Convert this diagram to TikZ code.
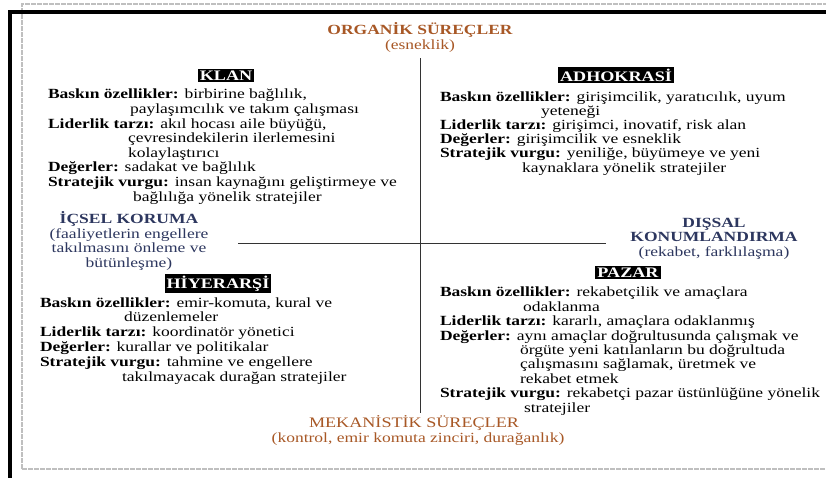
\documentclass[tikz,border=0pt]{standalone}
\usepackage{fontspec}
\setmainfont{Liberation Serif}[FakeStretch=1.25]
\definecolor{axbrown}{RGB}{168,88,38}
\definecolor{sidenavy}{RGB}{45,55,95}
\begin{document}
\begin{tikzpicture}[x=1pt,y=-1pt,
  every node/.style={inner sep=0pt, outer sep=0pt},
  body/.style={anchor=base west, align=left, font=\fontsize{14}{14.6}\selectfont},
  typebox/.style={fill=black, text=white, font=\bfseries\fontsize{14.5}{15}\selectfont, inner xsep=2pt, inner ysep=2pt},
  axtitle/.style={anchor=base, text=axbrown, font=\bfseries\fontsize{14}{15}\selectfont},
  axsub/.style={anchor=base, text=axbrown, font=\fontsize{14}{15}\selectfont},
  sidelabel/.style={anchor=base, align=center, text=sidenavy, font=\fontsize{14}{14.4}\selectfont},
  axis/.style={draw=black!80, line width=0.9pt}]
\useasboundingbox (0,0) rectangle (826,477);
\fill[white] (0,0) rectangle (826,477);
% frames
\draw[black!25, line width=2.5pt, dash pattern=on 5pt off 1pt] (22,469) -- (22,4) -- (830,4);
\draw[black!25, line width=2.5pt, dash pattern=on 5pt off 1pt] (22,469) -- (830,469);
\draw[black, line width=4pt] (10,480) -- (10,12) -- (830,12);
% axes
\coordinate (vt) at (420,58);
\coordinate (vb) at (420,413);
\coordinate (hl) at (238,243);
\coordinate (hr) at (606,243);
\draw[axis] (vt) -- (vb);
\draw[axis] (hl) -- (hr);
% axis titles
\node[axtitle] (org) at (420,34.5) {ORGANİK SÜREÇLER};
\node[axsub] (orgs) at (420,49) {(esneklik)};
\node[axsub, font=\fontsize{14.5}{15}\selectfont] (mek) at (414,427) {MEKANİSTİK SÜREÇLER};
\node[axsub] (meks) at (418,442) {(kontrol, emir komuta zinciri, durağanlık)};
% side labels
\node[sidelabel] (ic) at (129,267) {\textbf{İÇSEL KORUMA}\\(faaliyetlerin engellere\\takılmasını önleme ve\\bütünleşme)};
\node[sidelabel] (dis) at (714,256) {\textbf{DIŞSAL}\\\textbf{KONUMLANDIRMA}\\(rekabet, farklılaşma)};
% type boxes
\node[typebox] (klan) at (226,75.5) {KLAN};
\node[typebox] (adho) at (616,75) {ADHOKRASİ};
\node[typebox] (hiy) at (218,283.5) {HİYERARŞİ};
\node[typebox] (paz) at (628,272.5) {PAZAR};
% bodies
\node[body] (klanb) at (48,201) {\textbf{Baskın özellikler:} birbirine bağlılık,\\
\hspace*{82pt}paylaşımcılık ve takım çalışması\\
\textbf{Liderlik tarzı:} akıl hocası aile büyüğü,\\
\hspace*{80pt}çevresindekilerin ilerlemesini\\
\hspace*{80pt}kolaylaştırıcı\\
\textbf{Değerler:} sadakat ve bağlılık\\
\textbf{Stratejik vurgu:} insan kaynağını geliştirmeye ve\\
\hspace*{85pt}bağlılığa yönelik stratejiler};
\node[body, font=\fontsize{14}{14.2}\selectfont] (adhob) at (440,172) {\textbf{Baskın özellikler:} girişimcilik, yaratıcılık, uyum\\
\hspace*{101pt}yeteneği\\
\textbf{Liderlik tarzı:} girişimci, inovatif, risk alan\\
\textbf{Değerler:} girişimcilik ve esneklik\\
\textbf{Stratejik vurgu:} yeniliğe, büyümeye ve yeni\\
\hspace*{82pt}kaynaklara yönelik stratejiler};
\node[body, font=\fontsize{14}{14.8}\selectfont] (hiyb) at (40,381) {\textbf{Baskın özellikler:} emir-komuta, kural ve\\
\hspace*{84pt}düzenlemeler\\
\textbf{Liderlik tarzı:} koordinatör yönetici\\
\textbf{Değerler:} kurallar ve politikalar\\
\textbf{Stratejik vurgu:} tahmine ve engellere\\
\hspace*{82pt}takılmayacak durağan stratejiler};
\node[body, font=\fontsize{14}{14.4}\selectfont] (pazb) at (440,412) {\textbf{Baskın özellikler:} rekabetçilik ve amaçlara\\
\hspace*{83pt}odaklanma\\
\textbf{Liderlik tarzı:} kararlı, amaçlara odaklanmış\\
\textbf{Değerler:} aynı amaçlar doğrultusunda çalışmak ve\\
\hspace*{80pt}örgüte yeni katılanların bu doğrultuda\\
\hspace*{80pt}çalışmasını sağlamak, üretmek ve\\
\hspace*{80pt}rekabet etmek\\
\textbf{Stratejik vurgu:} rekabetçi pazar üstünlüğüne yönelik\\
\hspace*{84pt}stratejiler};
\end{tikzpicture}
\end{document}
